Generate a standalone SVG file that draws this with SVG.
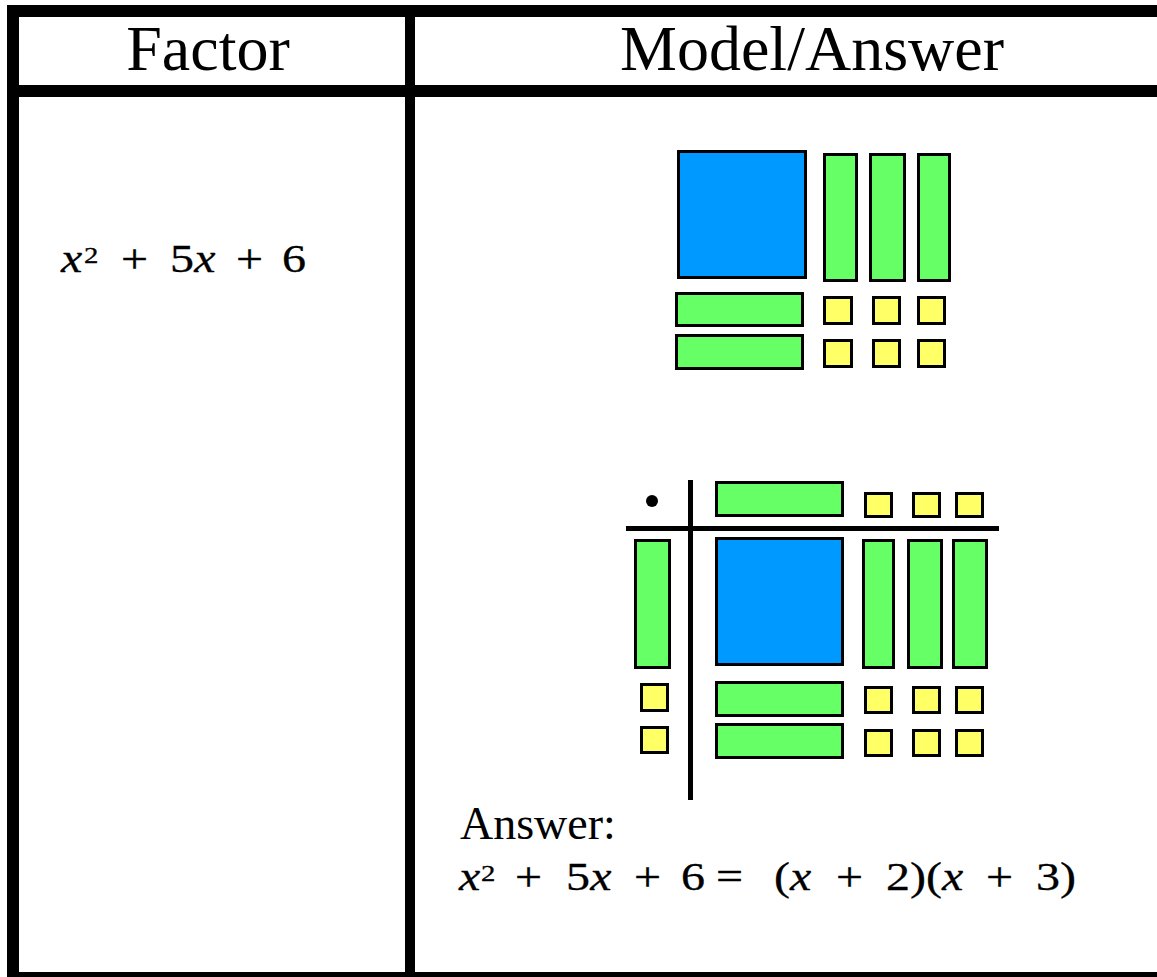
<svg xmlns="http://www.w3.org/2000/svg" width="1157" height="977" viewBox="0 0 1157 977">
<style>
text{font-family:"Liberation Serif","Times New Roman",serif;fill:#000}
.h{font-size:64px;text-anchor:middle}
.m{font-size:40px}
.i{font-size:40px;font-style:italic}
.s{font-size:24px}
.a{font-size:46px}
.b{fill:#0099FF;stroke:#000;stroke-width:3}
.g{fill:#66FF66;stroke:#000;stroke-width:3}
.y{fill:#FFFF66;stroke:#000;stroke-width:3}
.ln{fill:#000}
</style>
<rect width="1157" height="977" fill="#fff"/>
<g id="table">
<rect class="ln" x="7" y="5" width="1150" height="12"/>
<rect class="ln" x="7" y="85" width="1150" height="12"/>
<rect class="ln" x="7" y="5" width="12" height="972"/>
<rect class="ln" x="405" y="5" width="10" height="972"/>
<rect class="ln" x="7" y="972" width="1150" height="5"/>
</g>
<g id="header-factor"><text class="h" x="208" y="70">Factor</text></g>
<g id="header-model"><text class="h" x="812" y="70">Model/Answer</text></g>
<g id="problem" transform="translate(0,272) scale(1.2,1)" stroke="#000" stroke-width="0.3">
<text class="i" x="50.8" y="0">x</text>
<text class="s" x="70" y="-9">2</text>
<text class="m" x="100.8" y="0">+</text>
<text class="m" x="141.7" y="0">5</text>
<text class="i" x="161.8" y="0">x</text>
<text class="m" x="196.7" y="0">+</text>
<text class="m" x="235" y="0">6</text>
</g>
<g id="model-tiles">
<rect class="b" x="678.5" y="151.5" width="127" height="126"/>
<rect class="g" x="824.5" y="154.5" width="32" height="126"/>
<rect class="g" x="870.5" y="154.5" width="34" height="126"/>
<rect class="g" x="918.5" y="154.5" width="31" height="126"/>
<rect class="g" x="676.5" y="293.5" width="126" height="32"/>
<rect class="g" x="676.5" y="335.5" width="126" height="33"/>
<rect class="y" x="824.5" y="297.5" width="27" height="26"/>
<rect class="y" x="873.5" y="297.5" width="26" height="26"/>
<rect class="y" x="918.5" y="297.5" width="26" height="26"/>
<rect class="y" x="824.5" y="340.5" width="27" height="26"/>
<rect class="y" x="873.5" y="340.5" width="26" height="26"/>
<rect class="y" x="918.5" y="340.5" width="26" height="26"/>
</g>
<g id="factor-frame">
<circle cx="652" cy="501" r="6" fill="#000"/>
<line x1="690.5" y1="480" x2="690.5" y2="800" stroke="#000" stroke-width="5"/>
<line x1="626" y1="528.5" x2="999" y2="528.5" stroke="#000" stroke-width="5"/>
</g>
<g id="factor-tiles">
<rect class="g" x="716.5" y="482.5" width="126" height="33"/>
<rect class="y" x="865.5" y="493.5" width="26" height="23"/>
<rect class="y" x="913.5" y="493.5" width="26" height="23"/>
<rect class="y" x="956.5" y="493.5" width="26" height="23"/>
<rect class="g" x="635.5" y="540.5" width="34" height="127"/>
<rect class="b" x="716.5" y="538.5" width="126" height="126"/>
<rect class="g" x="863.5" y="540.5" width="30" height="127"/>
<rect class="g" x="908.5" y="540.5" width="33" height="127"/>
<rect class="g" x="953.5" y="540.5" width="33" height="127"/>
<rect class="y" x="641.5" y="684.5" width="26" height="26"/>
<rect class="y" x="641.5" y="727.5" width="26" height="25"/>
<rect class="g" x="716.5" y="682.5" width="126" height="33"/>
<rect class="g" x="716.5" y="724.5" width="126" height="33"/>
<rect class="y" x="865.5" y="687.5" width="26" height="25"/>
<rect class="y" x="913.5" y="687.5" width="26" height="25"/>
<rect class="y" x="956.5" y="687.5" width="26" height="25"/>
<rect class="y" x="865.5" y="730.5" width="26" height="25"/>
<rect class="y" x="913.5" y="730.5" width="26" height="25"/>
<rect class="y" x="956.5" y="730.5" width="26" height="25"/>
</g>
<g id="answer-label"><text class="a" x="460" y="839">Answer:</text></g>
<g id="answer" transform="translate(0,890) scale(1.2,1)" stroke="#000" stroke-width="0.3">
<text class="i" x="382.5" y="0">x</text>
<text class="s" x="400.8" y="-9">2</text>
<text class="m" x="429.2" y="0">+</text>
<text class="m" x="471.7" y="0">5</text>
<text class="i" x="491.8" y="0">x</text>
<text class="m" x="528.3" y="0">+</text>
<text class="m" x="567.5" y="0">6</text>
<text class="m" x="596.7" y="0">=</text>
<text class="m" x="645" y="0">(</text>
<text class="i" x="658.3" y="0">x</text>
<text class="m" x="696.7" y="0">+</text>
<text class="m" x="738.3" y="0">2</text>
<text class="m" x="758.3" y="0">)</text>
<text class="m" x="771.7" y="0">(</text>
<text class="i" x="785" y="0">x</text>
<text class="m" x="821.7" y="0">+</text>
<text class="m" x="863.3" y="0">3</text>
<text class="m" x="883.3" y="0">)</text>
</g>
</svg>
